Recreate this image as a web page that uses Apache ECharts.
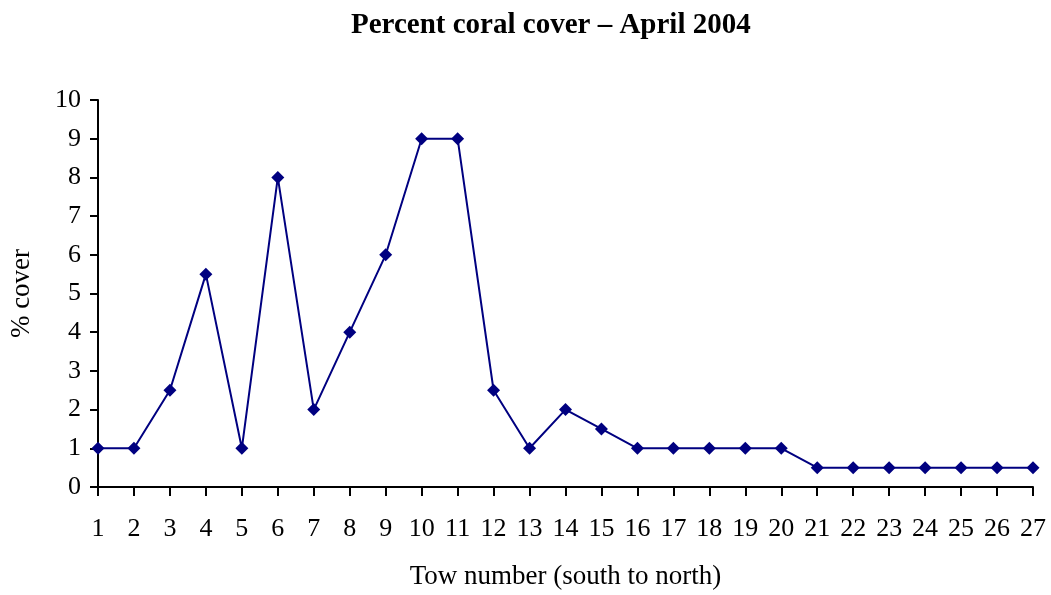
<!DOCTYPE html>
<html>
<head>
<meta charset="utf-8">
<script src="https://cdn.jsdelivr.net/npm/echarts@6/dist/echarts.min.js"></script>
<style>
  html, body { margin: 0; padding: 0; background: #fff; }
  #chart { width: 1051px; height: 595px; }
</style>
</head>
<body>
<div id="chart"></div>
<script>
// Tow numbers, south to north
const tows = ['1','2','3','4','5','6','7','8','9','10','11','12','13','14','15','16','17','18','19','20','21','22','23','24','25','26','27'];
// Percent coral cover at each tow
const cover = [1, 1, 2.5, 5.5, 1, 8, 2, 4, 6, 9, 9, 2.5, 1, 2, 1.5, 1, 1, 1, 1, 1, 0.5, 0.5, 0.5, 0.5, 0.5, 0.5, 0.5];

const serif = '"Liberation Serif", "Times New Roman", serif';
const chart = echarts.init(document.getElementById('chart'), null, { renderer: 'canvas' });

chart.setOption({
  animation: false,
  backgroundColor: '#ffffff',
  title: {
    text: 'Percent coral cover – April 2004',
    left: 346,
    top: 6,
    textStyle: { fontFamily: serif, fontWeight: 'bold', fontSize: 29, color: '#000' }
  },
  grid: { left: 95, right: 18, top: 100, bottom: 101, containLabel: false },
  xAxis: {
    type: 'category',
    data: tows,
    boundaryGap: false,
    name: 'Tow number (south to north)',
    nameLocation: 'middle',
    nameGap: 76,
    nameTextStyle: { fontFamily: serif, fontSize: 27, color: '#000' },
    axisLine: { lineStyle: { color: '#000', width: 2 } },
    axisTick: { show: true, length: 9, inside: false, alignWithLabel: true, lineStyle: { color: '#000', width: 2 } },
    axisLabel: { fontFamily: serif, fontSize: 26, color: '#000', margin: 29, interval: 0 },
    splitLine: { show: false }
  },
  yAxis: {
    type: 'value',
    min: 0,
    max: 10,
    interval: 1,
    name: '% cover',
    nameLocation: 'middle',
    nameGap: 63,
    nameTextStyle: { fontFamily: serif, fontSize: 27, color: '#000' },
    axisLine: { show: true, lineStyle: { color: '#000', width: 2 } },
    axisTick: { show: true, length: 8, lineStyle: { color: '#000', width: 2 } },
    axisLabel: { fontFamily: serif, fontSize: 26, color: '#000', margin: 17 },
    splitLine: { show: false }
  },
  series: [{
    type: 'line',
    data: cover,
    symbol: 'diamond',
    symbolSize: [13, 13],
    lineStyle: { color: '#000080', width: 2 },
    itemStyle: { color: '#000080' }
  }]
});
</script>
</body>
</html>
